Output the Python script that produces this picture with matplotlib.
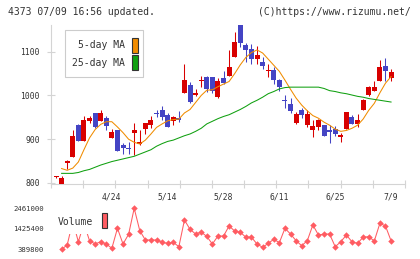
import matplotlib
matplotlib.use("Agg")
import matplotlib.pyplot as plt
from matplotlib.patches import Rectangle
import numpy as np

# daily candles, index 0 .. 60 (4/10 .. 7/9)
opens = [814, 798, 845, 860, 932, 896, 941, 960, 942, 948,
         903, 920, 887, 881, 914, 888, 923, 933, 960, 967,
         955, 941, 949, 1005, 1023, 1002, 1033, 1043, 1042, 996,
         1040, 1044, 1089, 1160, 1116, 1107, 1083, 1076, 1056, 1059,
         1036, 990, 981, 938, 966, 932, 922, 928, 932, 920,
         923, 905, 923, 951, 934, 967, 1000, 1011, 1034, 1068, 1039]
closes = [814, 812, 851, 907, 896, 943, 948, 928, 960, 930,
          917, 873, 879, 878, 920, 894, 936, 943, 957, 951,
          928, 951, 945, 1036, 986, 1005, 1036, 1014, 1011, 1034,
          1028, 1065, 1123, 1119, 1105, 1083, 1093, 1068, 1058, 1036,
          1019, 987, 964, 958, 955, 957, 930, 943, 907, 917,
          913, 909, 962, 934, 945, 989, 1019, 1020, 1066, 1055, 1053]
highs = [816, 816, 852, 920, 934, 952, 954, 961, 966, 953,
         924, 921, 892, 893, 937, 920, 938, 952, 966, 977,
         959, 952, 964, 1072, 1030, 1015, 1045, 1045, 1043, 1040,
         1057, 1104, 1145, 1160, 1119, 1117, 1114, 1089, 1072, 1064,
         1038, 1002, 995, 962, 972, 966, 943, 946, 932, 932,
         930, 914, 963, 955, 957, 993, 1022, 1032, 1080, 1085, 1061]
lows = [812, 797, 833, 860, 896, 896, 937, 925, 941, 921,
        903, 873, 867, 866, 864, 887, 913, 925, 951, 943,
        928, 932, 939, 1005, 982, 998, 1019, 1008, 1005, 995,
        1027, 1044, 1087, 1110, 1076, 1073, 1073, 1061, 1042, 1027,
        1011, 972, 960, 934, 949, 928, 905, 921, 907, 892,
        908, 894, 923, 934, 928, 966, 998, 1011, 1034, 1032, 1032]

# moving averages and volume start at index 1
ma5 = [833, 829, 834, 848, 876, 903, 922, 934, 940, 940,
       928, 915, 900, 893, 889, 898, 912, 927, 935, 942,
       945, 946, 960, 968, 984, 1000, 1012, 1013, 1020, 1026,
       1032, 1050, 1070, 1087, 1098, 1104, 1097, 1083, 1069, 1055,
       1035, 1014, 994, 978, 965, 954, 948, 939, 932, 923,
       918, 920, 925, 932, 946, 966, 982, 1006, 1028, 1043]
ma25 = [822, 822, 822, 824, 828, 831, 836, 841, 845, 849,
        852, 855, 858, 861, 866, 871, 876, 884, 890, 895,
        898, 903, 908, 912, 918, 925, 935, 941, 947, 952,
        956, 962, 968, 975, 983, 989, 996, 1004, 1009, 1015,
        1018, 1019, 1019, 1019, 1019, 1019, 1019, 1016, 1011, 1009,
        1006, 1004, 1001, 998, 996, 993, 991, 989, 987, 985]
volume = [389800, 607000, 1800000, 773000, 1700000, 824000, 657000, 773000, 657000, 440000,
          1450000, 657000, 1150000, 2461000, 1330000, 860000, 860000, 860000, 743000, 690000,
          743000, 520000, 1870000, 1400000, 1160000, 1260000, 1040000, 657000, 1060000, 1060000,
          1570000, 1310000, 1250000, 1000000, 1000000, 657000, 490000, 690000, 895000, 727000,
          1450000, 1160000, 824000, 571000, 824000, 1620000, 1110000, 1160000, 1160000, 520000,
          773000, 1110000, 773000, 690000, 1000000, 1030000, 808000, 1700000, 1570000, 824000]

date_pos = [10, 20, 30, 40, 50, 60]
date_labels = ["4/24", "5/14", "5/28", "6/11", "6/25", "7/9"]
price_ticks = [800, 900, 1000, 1100]
vol_ticks = [389800, 1425400, 2461000]

RED = "#d80000"
BLUE = "#4444c4"
ORANGE = "#f08c00"
GREEN = "#10a010"
VOLC = "#ff5c62"
GRID = "#d4d4d4"
TXT = "#333333"
MONO = "DejaVu Sans Mono"

W, H = 420, 259
fig = plt.figure(figsize=(W / 100, H / 100), dpi=100)


def fx(x):
    return x / W


def fy(y):
    return 1 - y / H


# ---- price panel
ax = fig.add_axes([fx(51), fy(184), 354 / W, 159 / H])
ax.set_xlim(-0.9, 62.5)
ax.set_ylim(797.7, 1161)

idx = np.arange(len(opens))
o = np.array(opens)
c = np.array(closes)
cols = [RED if cc >= oo else BLUE for oo, cc in zip(o, c)]
bottoms = np.minimum(o, c)
heights = np.maximum(np.abs(c - o), 2.5)
ax.vlines(idx, lows, highs, colors=cols, linewidth=0.75, zorder=2)
ax.bar(idx, heights, bottom=bottoms, width=0.9, color=cols, linewidth=0, zorder=3)

mi = np.arange(1, len(opens))
ax.plot(mi, ma5, color=ORANGE, lw=0.75, zorder=4)
ax.plot(mi, ma25, color=GREEN, lw=0.75, zorder=4)

for s in ["top", "right"]:
    ax.spines[s].set_visible(False)
for s in ["left", "bottom"]:
    ax.spines[s].set_color(GRID)
    ax.spines[s].set_linewidth(0.8)

ax.set_xticks(np.linspace(-0.9, 62.5, 12))
ax.set_xticklabels([])
ax.tick_params(axis="x", direction="inout", length=5.5, width=0.8, color=GRID)
ax.set_yticks(price_ticks)
ax.set_yticklabels([str(p) for p in price_ticks], family=MONO, fontsize=5.8, color=TXT)
ax.tick_params(axis="y", direction="inout", length=6, width=0.8, color=GRID, pad=5)

for p, lab in zip(date_pos, date_labels):
    ax.text(p, -0.082, lab, transform=ax.get_xaxis_transform(), ha="center", va="center",
            family=MONO, fontsize=5.8, color=TXT)

# ---- volume panel
vax = fig.add_axes([fx(51), fy(254), 354 / W, 51 / H])
vax.set_xlim(-0.9, 62.5)
vax.set_ylim(152400, 2728700)
vax.plot(mi, volume, color=VOLC, lw=0.75, marker="D", markersize=3.3,
         markeredgewidth=0, zorder=2)
for s in vax.spines.values():
    s.set_visible(False)
vax.set_xticks([])
vax.set_yticks(vol_ticks)
vax.set_yticklabels([str(v) for v in vol_ticks], family=MONO, fontsize=5.2, color=TXT)
vax.tick_params(axis="y", length=0, pad=5)

# volume legend
vax.add_patch(Rectangle((fx(55), fy(234)), (110 - 55) / W, (234 - 211) / H,
                        transform=fig.transFigure, facecolor="white", edgecolor="none", zorder=5))
fig.text(fx(58), fy(222), "Volume", ha="left", va="center", family=MONO, fontsize=7.0, color=TXT, zorder=6)
fig.add_artist(Rectangle((fx(101.5), fy(228)), 5.5 / W, 15 / H, transform=fig.transFigure,
                         facecolor=VOLC, edgecolor=TXT, linewidth=0.8))

# ---- MA legend
fig.add_artist(Rectangle((fx(65), fy(77)), 78 / W, 47 / H, transform=fig.transFigure,
                         facecolor="white", edgecolor="#cccccc", linewidth=0.8))
fig.text(fx(125), fy(45.5), "5-day MA", ha="right", va="center", family=MONO, fontsize=7.0, color=TXT)
fig.text(fx(125), fy(62.5), "25-day MA", ha="right", va="center", family=MONO, fontsize=7.0, color=TXT)
fig.add_artist(Rectangle((fx(131.5), fy(52.5)), 6 / W, 15 / H, transform=fig.transFigure,
                         facecolor=ORANGE, edgecolor=TXT, linewidth=0.8))
fig.add_artist(Rectangle((fx(131.5), fy(69.5)), 6 / W, 15 / H, transform=fig.transFigure,
                         facecolor=GREEN, edgecolor=TXT, linewidth=0.8))

# ---- header
fig.text(fx(8), fy(12), "4373 07/09 16:56 updated.", ha="left", va="center",
         family=MONO, fontsize=7.0, color=TXT)
fig.text(fx(411), fy(12), "(C)https://www.rizumu.net/", ha="right", va="center",
         family=MONO, fontsize=7.0, color=TXT)

fig.savefig("out.png", dpi=100, facecolor="white")
